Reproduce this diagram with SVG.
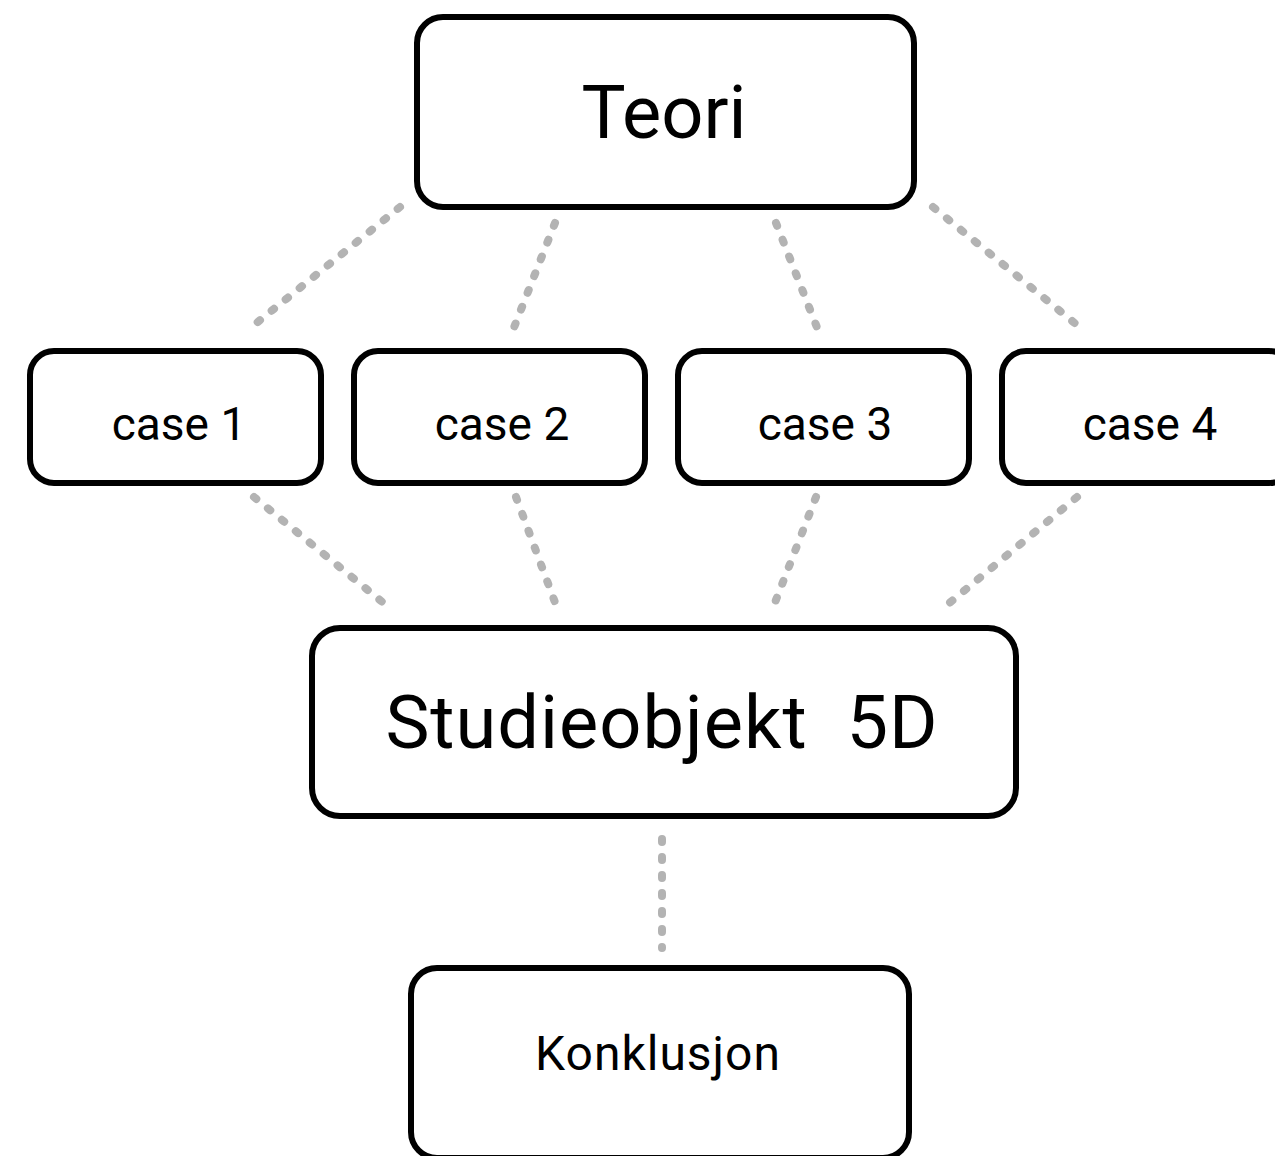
<svg xmlns="http://www.w3.org/2000/svg" width="1275" height="1156" viewBox="0 0 1275 1156">
<style>
.box{fill:#fff;stroke:#000;stroke-width:6}
.lbl{font-family:Roboto,"Liberation Sans",sans-serif;fill:#000;text-anchor:middle}
.big{font-size:74px}
.small{font-size:46px}
.con{stroke:#b3b3b3;stroke-width:8;stroke-linecap:round;stroke-dasharray:3 15;fill:none}
</style>
<rect width="1275" height="1156" fill="#fff"/>
<g id="connectors">
<line class="con" x1="400" y1="207" x2="254" y2="325"/>
<line class="con" x1="555" y1="223" x2="513" y2="330"/>
<line class="con" x1="776" y1="223" x2="818" y2="330"/>
<line class="con" x1="933" y1="207" x2="1077" y2="325"/>
<line class="con" x1="254" y1="497" x2="386" y2="605"/>
<line class="con" x1="516" y1="497" x2="556" y2="605"/>
<line class="con" x1="816" y1="497" x2="774" y2="605"/>
<line class="con" x1="1077" y1="497" x2="947" y2="605"/>
<line class="con" x1="662" y1="839" x2="662" y2="948"/>
</g>
<g id="teori">
<rect class="box" x="417" y="17" width="497" height="190" rx="26"/>
<text class="lbl big" x="664" y="138">Teori</text>
</g>
<g id="case1">
<rect class="box" x="30" y="351" width="291" height="132" rx="24"/>
<text class="lbl small" x="179" y="440">case 1</text>
</g>
<g id="case2">
<rect class="box" x="354" y="351" width="291" height="132" rx="24"/>
<text class="lbl small" x="502" y="440">case 2</text>
</g>
<g id="case3">
<rect class="box" x="678" y="351" width="291" height="132" rx="24"/>
<text class="lbl small" x="825" y="440">case 3</text>
</g>
<g id="case4">
<rect class="box" x="1002" y="351" width="291" height="132" rx="24"/>
<text class="lbl small" x="1150" y="440">case 4</text>
</g>
<g id="studieobjekt">
<rect class="box" x="312" y="628" width="704" height="188" rx="28"/>
<text class="lbl big" x="662" y="748" letter-spacing="1" xml:space="preserve">Studieobjekt  5D</text>
</g>
<g id="konklusjon">
<rect class="box" x="411" y="968" width="498" height="190" rx="26"/>
<text class="lbl" x="658" y="1070" font-size="48" letter-spacing="1">Konklusjon</text>
</g>
</svg>
